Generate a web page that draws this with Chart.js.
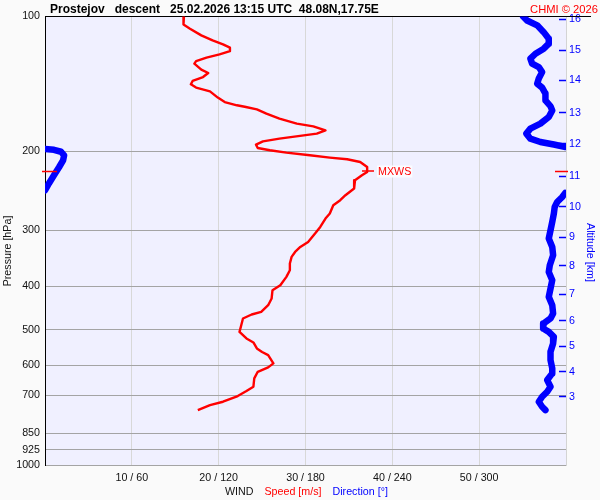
<!DOCTYPE html>
<html><head><meta charset="utf-8">
<script src="https://cdn.jsdelivr.net/npm/chart.js@4.4.1/dist/chart.umd.min.js"></script>
<style>html,body{margin:0;padding:0;background:#fafafa;}canvas{display:block;}</style>
</head><body>
<canvas id="c" width="600" height="500"></canvas>
<script>
// ---- data ----
const PRESSURE_TICKS = [100,200,300,400,500,600,700,850,925,1000];
const SPEED_TICKS = [10,20,30,40,50];
const DIR_TICKS = [60,120,180,240,300];
const ALT_KM = [16,15,14,13,12,11,10,9,8,7,6,5,4,3];
const ALT_P = [101.5,119.0,138.8,163.9,192.1,226.9,265.9,310.6,359.8,416.1,477.1,543.2,619.7,704.3];

// wind speed profile [hPa] / [m/s]
const SPEED_P = [100,101,104.2,106.5,110.2,113.1,115.4,117.4,119.5,121.5,123.6,125.8,127.4,131.4,133.7,136.5,139.3,141.7,144.1,146.9,151.7,155.2,157.8,159,161.2,164.7,169,173.4,175.8,179.5,182.5,184.1,187.3,189.9,193.1,196.5,198.8,201.2,204,206.4,208.2,211.1,216.6,222.2,226,231.9,241.9,250.4,256.9,263.6,275.1,282.2,294.6,304.8,318.2,326.5,335,343.6,355.5,367.9,380.7,397.3,407.6,425.4,440.3,455.7,461.8,471.4,487.9,504.9,522.3,533.1,549.8,560,568.9,593.6,605.9,619.7,641,669.2,684.1,701.8,722.7,735.1,754.4];
const SPEED = [16.0,15.9,16.0,16.7,18.0,19.3,20.5,21.3,21.3,20.1,18.6,17.4,17.2,18.0,18.8,18.2,17.0,16.8,17.4,19.0,19.9,20.7,22.1,23.0,24.4,25.5,27.0,29.0,30.9,32.3,31.3,29.8,27.0,25.1,24.3,24.5,25.9,27.8,30.5,32.8,34.8,36.3,37.1,37.1,36.5,35.7,35.6,34.6,34.0,33.2,32.8,32.3,31.7,31.1,30.3,29.4,28.8,28.4,28.2,28.2,27.8,27.1,26.2,26.1,25.7,24.9,23.8,22.8,22.6,22.4,23.2,24.0,24.4,25.0,25.7,26.3,25.7,24.5,24.1,24.0,23.2,22.2,20.5,19.0,17.6];

// wind direction profile [hPa] / [deg], split where it wraps 360 -> 0
const DIR_TOP_P = [100,102.1,104.7,108.4,112.1,115.0,118.0,121.1,124.2,127.4,129.7,133.1,137.6,141.2,144.1,148.6,153.8,158.6,162.0,167.6,173.4,177.9,182.5,187.3,190.5,193.0,195.5];
const DIR_TOP = [330.4,333.1,340.1,344.6,348.1,348.1,344.6,338.9,335.4,336.6,341.2,343.5,341.2,340.1,343.5,345.8,345.8,349.3,350.5,348.1,342.3,335.4,332.6,335.4,342.3,351.6,359.7];
const DIR_MID_P = [197.4,198.3,200.3,204.0,209.3,216.9,226.0,235.4,244.1];
const DIR_MID = [0,6.2,11.1,13.2,12.5,9.7,6.2,2.8,0];
const DIR_LOW_P = [247.5,252.6,259.2,265.9,275.1,287.2,299.7,312.7,326.5,340.6,358.6,371.1,387.3,404.2,421.9,440.3,459.4,471.4,483.6,496.2,504.9,518.1,535.8,559.3,583.6,609.0,624.9,646.7,669.2,686.6,704.3,722.7,741.6,754.4];
const DIR_LOW = [359.5,357.4,353.9,352.2,351.6,350.5,349.3,348.1,350.5,351.1,348.8,348.1,350.5,349.3,348.1,350.5,351.1,349.3,344.6,344.2,348.1,351.6,351.1,349.3,349.3,350.5,350.5,347.0,349.3,347.0,343.5,341.2,343.5,345.8];

const MXWS_P = 221;
const MXWS_SPEED = 37.2;

const TITLE = 'Prostejov   descent   25.02.2026 13:15 UTC  48.08N,17.75E';
const COPY = 'CHMI \u00A9 2026';

// ---- chart ----
const FONT = '"Liberation Sans", Arial, sans-serif';
Chart.defaults.font.family = FONT;
Chart.defaults.font.size = 10.7;
Chart.defaults.color = '#111';

const pts = (P, V) => P.map((p, i) => ({x: V[i], y: p}));

const deco = {
  id: 'deco',
  beforeDraw(chart) {
    const {ctx, chartArea: a} = chart;
    ctx.save();
    ctx.fillStyle = '#fafafa';
    ctx.fillRect(0, 0, chart.width, chart.height);
    ctx.fillStyle = '#f0f0ff';
    ctx.fillRect(a.left, a.top, a.right - a.left, a.bottom - a.top);
    ctx.restore();
  },
  afterDraw(chart) {
    const {ctx, chartArea: a, scales} = chart;
    ctx.save();
    // top border extension
    const yTop = Math.round(scales.y.getPixelForValue(100)) + 0.5;
    ctx.strokeStyle = '#000'; ctx.lineWidth = 1;
    ctx.beginPath(); ctx.moveTo(a.right, yTop); ctx.lineTo(591, yTop); ctx.stroke();
    // MXWS markers
    const yM = Math.round(scales.y.getPixelForValue(MXWS_P)) + 0.5;
    ctx.strokeStyle = '#ff0000'; ctx.lineWidth = 1.5;
    ctx.beginPath();
    ctx.moveTo(a.left - 3, yM); ctx.lineTo(a.left + 12, yM);
    ctx.moveTo(a.right - 11, yM); ctx.lineTo(a.right + 2, yM);
    ctx.stroke();
    const xM = scales.x.getPixelForValue(MXWS_SPEED);
    ctx.font = '10.7px ' + FONT;
    ctx.textBaseline = 'middle'; ctx.textAlign = 'left';
    const w = ctx.measureText('MXWS').width;
    ctx.fillStyle = '#fcfcff';
    ctx.fillRect(xM + 9, yM - 6, w + 2, 12);
    ctx.fillStyle = '#ff0000';
    ctx.fillText('MXWS', xM + 10, yM + 1);
    // header
    ctx.textBaseline = 'alphabetic';
    ctx.font = 'bold 12px ' + FONT;
    ctx.fillStyle = '#000';
    ctx.textAlign = 'left';
    ctx.fillText(TITLE, 50, 12.5);
    ctx.font = '11.2px ' + FONT;
    ctx.fillStyle = '#ff0000';
    ctx.textAlign = 'right';
    ctx.fillText(COPY, 598, 12.5);
    // bottom axis title
    ctx.font = '10.7px ' + FONT;
    ctx.textAlign = 'left';
    ctx.textBaseline = 'middle';
    let x = 225;
    const parts = [['WIND', '#111'], ['Speed [m/s]', '#ff0000'], ['Direction [\u00B0]', '#0000ff']];
    parts.forEach(([t, c]) => {
      ctx.fillStyle = c; ctx.fillText(t, x, 492);
      x += ctx.measureText(t).width + 11;
    });
    // rotated axis titles
    ctx.save();
    ctx.translate(8.5, 251); ctx.rotate(-Math.PI / 2);
    ctx.textAlign = 'center'; ctx.fillStyle = '#111';
    ctx.fillText('Pressure [hPa]', 0, 0);
    ctx.restore();
    ctx.save();
    ctx.translate(590, 252.5); ctx.rotate(Math.PI / 2);
    ctx.textAlign = 'center'; ctx.fillStyle = '#0000ff';
    ctx.fillText('Altitude [km]', 0, 0);
    ctx.restore();
    ctx.restore();
  }
};

const blue = (P, V) => ({
  data: pts(P, V), xAxisID: 'xd', yAxisID: 'y', showLine: true,
  borderColor: '#0000ff', borderWidth: 6.5, borderCapStyle: 'round', borderJoinStyle: 'round',
  pointRadius: 0, tension: 0, fill: false
});

new Chart(document.getElementById('c'), {
  type: 'scatter',
  data: {
    datasets: [
      {data: pts(SPEED_P, SPEED), xAxisID: 'x', yAxisID: 'y', showLine: true,
       borderColor: '#ff0000', borderWidth: 2.4, borderJoinStyle: 'round', pointRadius: 0, tension: 0, fill: false},
      blue(DIR_TOP_P, DIR_TOP),
      blue(DIR_MID_P, DIR_MID),
      blue(DIR_LOW_P, DIR_LOW),
      {data: [{x: MXWS_SPEED, y: MXWS_P}], xAxisID: 'x', yAxisID: 'y', showLine: false,
       pointStyle: 'line', pointRadius: 6, borderColor: '#ff0000', borderWidth: 1.5}
    ]
  },
  options: {
    responsive: false, animation: false, devicePixelRatio: 1, events: [],
    layout: {padding: {top: 16, left: 0, right: 0, bottom: 0}},
    plugins: {legend: {display: false}, tooltip: {enabled: false}, title: {display: false}},
    scales: {
      x: {
        type: 'linear', position: 'bottom', min: 0, max: 60,
        afterBuildTicks: s => { s.ticks = SPEED_TICKS.map(v => ({value: v})); },
        afterFit: s => { s.height = 35; },
        ticks: {autoSkip: false, maxRotation: 0, padding: 7, color: '#111',
          callback: (v, i) => SPEED_TICKS[i] + ' / ' + DIR_TICKS[i]},
        grid: {color: '#d8d8d8', lineWidth: 1, drawTicks: false},
        border: {display: false}
      },
      xd: {type: 'linear', min: 0, max: 360, display: false},
      y: {
        type: 'logarithmic', position: 'left', reverse: true, min: 100, max: 1000,
        afterBuildTicks: s => { s.ticks = PRESSURE_TICKS.map(v => ({value: v})); },
        afterFit: s => { s.width = 45; },
        ticks: {autoSkip: false, padding: 5, color: '#111', callback: (v, i) => String(PRESSURE_TICKS[i])},
        grid: {color: c => (c.tick && c.tick.value === 100) ? '#000' : '#a4a4a4', lineWidth: 1, drawTicks: false},
        border: {display: true, color: '#000', width: 1}
      },
      y2: {
        type: 'logarithmic', position: 'right', reverse: true, min: 100, max: 1000,
        afterBuildTicks: s => { s.ticks = ALT_P.map(v => ({value: v})); },
        afterFit: s => { s.width = 34; },
        ticks: {autoSkip: false, padding: 10, color: '#0000ff', callback: (v, i) => String(ALT_KM[i])},
        grid: {drawOnChartArea: false, drawTicks: true, tickLength: -7, tickColor: '#0000ff', tickWidth: 1.5},
        border: {display: true, color: '#d4d4d4', width: 1}
      }
    }
  },
  plugins: [deco]
});
</script>
</body></html>
